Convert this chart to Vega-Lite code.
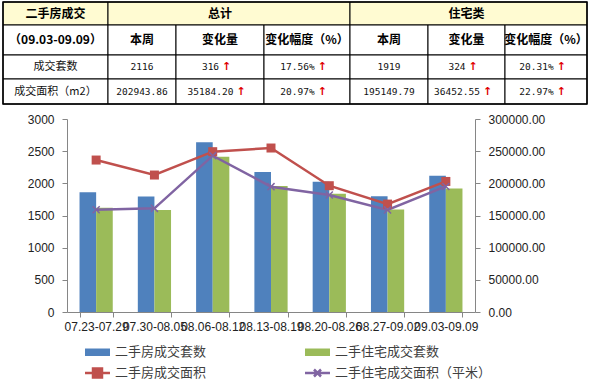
{
  "$schema": "https://vega.github.io/schema/vega-lite/v6.json",
  "width": 408,
  "height": 193,
  "autosize": {"type": "none"},
  "padding": {"left": 67, "top": 119, "right": 114, "bottom": 68},
  "background": "white",
  "config": {"view": {"stroke": null}, "font": "Liberation Sans"},
  "datasets": {
    "series": [
      {"week": "07.23-07.29", "series": "二手房成交套数", "value": 1860},
      {"week": "07.30-08.05", "series": "二手房成交套数", "value": 1797},
      {"week": "08.06-08.12", "series": "二手房成交套数", "value": 2637},
      {"week": "08.13-08.19", "series": "二手房成交套数", "value": 2176},
      {"week": "08.20-08.26", "series": "二手房成交套数", "value": 2026},
      {"week": "08.27-09.02", "series": "二手房成交套数", "value": 1800},
      {"week": "09.03-09.09", "series": "二手房成交套数", "value": 2116},
      {"week": "07.23-07.29", "series": "二手住宅成交套数", "value": 1620},
      {"week": "07.30-08.05", "series": "二手住宅成交套数", "value": 1585},
      {"week": "08.06-08.12", "series": "二手住宅成交套数", "value": 2414},
      {"week": "08.13-08.19", "series": "二手住宅成交套数", "value": 1958},
      {"week": "08.20-08.26", "series": "二手住宅成交套数", "value": 1839},
      {"week": "08.27-09.02", "series": "二手住宅成交套数", "value": 1595},
      {"week": "09.03-09.09", "series": "二手住宅成交套数", "value": 1919},
      {"week": "07.23-07.29", "series": "二手房成交面积", "value": 236200},
      {"week": "07.30-08.05", "series": "二手房成交面积", "value": 212900},
      {"week": "08.06-08.12", "series": "二手房成交面积", "value": 249200},
      {"week": "08.13-08.19", "series": "二手房成交面积", "value": 254900},
      {"week": "08.20-08.26", "series": "二手房成交面积", "value": 196300},
      {"week": "08.27-09.02", "series": "二手房成交面积", "value": 167759.66},
      {"week": "09.03-09.09", "series": "二手房成交面积", "value": 202943.86},
      {"week": "07.23-07.29", "series": "二手住宅成交面积（平米）", "value": 159000},
      {"week": "07.30-08.05", "series": "二手住宅成交面积（平米）", "value": 161100},
      {"week": "08.06-08.12", "series": "二手住宅成交面积（平米）", "value": 243000},
      {"week": "08.13-08.19", "series": "二手住宅成交面积（平米）", "value": 194800},
      {"week": "08.20-08.26", "series": "二手住宅成交面积（平米）", "value": 181800},
      {"week": "08.27-09.02", "series": "二手住宅成交面积（平米）", "value": 158697.24},
      {"week": "09.03-09.09", "series": "二手住宅成交面积（平米）", "value": 195149.79}
    ],
    "table": [
      {"r": 0, "c0": 0, "c1": 1, "t": "二手房成交", "up": false},
      {"r": 0, "c0": 1, "c1": 4, "t": "总计", "up": false},
      {"r": 0, "c0": 4, "c1": 7, "t": "住宅类", "up": false},
      {"r": 1, "c0": 0, "c1": 1, "t": "（09.03-09.09）", "up": false},
      {"r": 1, "c0": 1, "c1": 2, "t": "本周", "up": false},
      {"r": 1, "c0": 2, "c1": 3, "t": "变化量", "up": false},
      {"r": 1, "c0": 3, "c1": 4, "t": "变化幅度（%）", "up": false},
      {"r": 1, "c0": 4, "c1": 5, "t": "本周", "up": false},
      {"r": 1, "c0": 5, "c1": 6, "t": "变化量", "up": false},
      {"r": 1, "c0": 6, "c1": 7, "t": "变化幅度（%）", "up": false},
      {"r": 2, "c0": 0, "c1": 1, "t": "成交套数", "up": false},
      {"r": 2, "c0": 1, "c1": 2, "t": "2116", "up": false},
      {"r": 2, "c0": 2, "c1": 3, "t": "316", "up": true},
      {"r": 2, "c0": 3, "c1": 4, "t": "17.56%", "up": true},
      {"r": 2, "c0": 4, "c1": 5, "t": "1919", "up": false},
      {"r": 2, "c0": 5, "c1": 6, "t": "324", "up": true},
      {"r": 2, "c0": 6, "c1": 7, "t": "20.31%", "up": true},
      {"r": 3, "c0": 0, "c1": 1, "t": "成交面积（m2）", "up": false},
      {"r": 3, "c0": 1, "c1": 2, "t": "202943.86", "up": false},
      {"r": 3, "c0": 2, "c1": 3, "t": "35184.20", "up": true},
      {"r": 3, "c0": 3, "c1": 4, "t": "20.97%", "up": true},
      {"r": 3, "c0": 4, "c1": 5, "t": "195149.79", "up": false},
      {"r": 3, "c0": 5, "c1": 6, "t": "36452.55", "up": true},
      {"r": 3, "c0": 6, "c1": 7, "t": "22.97%", "up": true}
    ]
  },
  "layer": [
    {
      "data": {"name": "series"},
      "layer": [
        {
          "transform": [{"filter": {"field": "series", "oneOf": ["二手房成交套数", "二手住宅成交套数"]}}],
          "mark": {"type": "bar"},
          "encoding": {
            "x": {
              "field": "week", "type": "nominal", "sort": null,
              "scale": {"paddingInner": 0.43, "paddingOuter": 0.215},
              "axis": {"title": null, "labelAngle": 0, "labelOverlap": false, "labelFontSize": 12, "labelColor": "#222222", "labelPadding": 4, "tickBand": "extent", "tickSize": 5, "tickColor": "#868686", "domainColor": "#868686", "labelFlush": false}
            },
            "xOffset": {"field": "series", "type": "nominal", "scale": {"domain": ["二手房成交套数", "二手住宅成交套数"]}},
            "y": {
              "field": "value", "type": "quantitative",
              "scale": {"domain": [0, 3000], "nice": false},
              "axis": {"title": null, "values": [0, 500, 1000, 1500, 2000, 2500, 3000], "format": "d", "labelOverlap": false, "grid": false, "labelFontSize": 12, "labelColor": "#222222", "labelPadding": 8, "tickSize": 5, "tickColor": "#868686", "domainColor": "#868686"}
            },
            "color": {
              "field": "series", "type": "nominal",
              "scale": {"domain": ["二手房成交套数", "二手住宅成交套数", "二手房成交面积", "二手住宅成交面积（平米）"], "range": ["#4F81BD", "#9BBB59", "#C0504D", "#8064A2"]},
              "legend": {
                "title": null, "orient": "none", "legendX": 24, "legendY": 226.5, "columns": 2, "direction": "horizontal",
                "symbolSize": 156, "labelOffset": 11, "columnPadding": 93, "rowPadding": 4, "padding": 0,
                "labelFontSize": 13, "labelFont": "Noto Sans CJK SC", "labelColor": "#404040", "labelLimit": 300,
                "encode": {
                  "symbols": {
                    "update": {
                      "shape": {"signal": "datum.value == '二手房成交面积' ? 'M-2,0H2M-0.72,-0.72H0.72V0.72H-0.72Z' : datum.value == '二手住宅成交面积（平米）' ? 'M-2,0H2M-0.56,-0.56L0.56,0.56M-0.56,0.56L0.56,-0.56' : 'M-2,-0.6H2V0.6H-2Z'"},
                      "fill": {"signal": "datum.value == '二手住宅成交面积（平米）' ? 'transparent' : scale('color', datum.value)"},
                      "stroke": {"signal": "scale('color', datum.value)"},
                      "strokeWidth": {"signal": "(datum.value == '二手房成交套数' || datum.value == '二手住宅成交套数') ? 0 : 2.5"},
                      "opacity": {"value": 1}
                    }
                  }
                }
              }
            }
          }
        },
        {
          "encoding": {
            "x": {"field": "week", "type": "nominal", "sort": null},
            "y": {
              "field": "value", "type": "quantitative",
              "scale": {"domain": [0, 300000], "nice": false},
              "axis": {"orient": "right", "title": null, "values": [0, 50000, 100000, 150000, 200000, 250000, 300000], "format": ".2f", "labelOverlap": false, "grid": false, "labelFontSize": 12, "labelColor": "#222222", "labelPadding": 8, "tickSize": 5, "tickColor": "#868686", "domainColor": "#868686"}
            },
            "color": {"field": "series", "type": "nominal"}
          },
          "layer": [
            {
              "transform": [{"filter": {"field": "series", "oneOf": ["二手房成交面积", "二手住宅成交面积（平米）"]}}],
              "mark": {"type": "line", "strokeWidth": 2.5}
            },
            {
              "transform": [{"filter": {"field": "series", "equal": "二手房成交面积"}}],
              "mark": {"type": "point", "shape": "square", "filled": true, "size": 81, "opacity": 1}
            },
            {
              "transform": [{"filter": {"field": "series", "equal": "二手住宅成交面积（平米）"}}],
              "mark": {"type": "point", "shape": "M-1,-1L1,1M-1,1L1,-1", "filled": false, "size": 50, "strokeWidth": 1.5, "opacity": 1}
            }
          ]
        }
      ],
      "resolve": {"scale": {"y": "independent"}}
    },
    {
      "data": {"name": "table"},
      "transform": [
        {"calculate": "(datum.c0 + datum.c1) / 2", "as": "cx"},
        {"calculate": "datum.r + 0.5", "as": "cy"},
        {"calculate": "datum.r + 1", "as": "r1"}
      ],
      "layer": [
        {
          "mark": {"type": "rect", "stroke": "#000000", "strokeWidth": 1},
          "encoding": {
            "x": {"field": "c0", "type": "quantitative", "scale": {"domain": [0, 1, 2, 3, 4, 5, 6, 7], "range": [-64, 41, 109, 197, 283, 361, 438, 520], "nice": false, "zero": false}, "axis": null},
            "x2": {"field": "c1"},
            "y": {"field": "r", "type": "quantitative", "scale": {"domain": [0, 1, 2, 3, 4], "range": [-117, -94, -64, -40, -15], "nice": false, "zero": false}, "axis": null},
            "y2": {"field": "r1"},
            "fill": {"condition": {"test": "datum.r == 0", "value": "#FFFBD2"}, "value": "#FFFFFF"}
          }
        },
        {
          "data": {"values": [{}]},
          "mark": {"type": "rect", "fill": null, "stroke": "#000000", "strokeWidth": 1.5},
          "encoding": {
            "x": {"datum": 0, "type": "quantitative"},
            "x2": {"datum": 7},
            "y": {"datum": 0, "type": "quantitative"},
            "y2": {"datum": 4}
          }
        },
        {
          "transform": [{"filter": "datum.r <= 1"}],
          "mark": {"type": "text", "font": "Noto Sans CJK SC", "fontWeight": "bold", "fontSize": 12, "align": "center", "baseline": "middle", "color": "#000000"},
          "encoding": {
            "x": {"field": "cx", "type": "quantitative"},
            "y": {"field": "cy", "type": "quantitative"},
            "text": {"field": "t"}
          }
        },
        {
          "transform": [{"filter": "datum.r >= 2 && datum.c0 == 0"}],
          "mark": {"type": "text", "font": "Noto Sans CJK SC", "fontSize": 11, "align": "center", "baseline": "middle", "color": "#111111"},
          "encoding": {
            "x": {"field": "cx", "type": "quantitative"},
            "y": {"field": "cy", "type": "quantitative"},
            "text": {"field": "t"}
          }
        },
        {
          "transform": [{"filter": "datum.r >= 2 && datum.c0 > 0 && !datum.up"}],
          "mark": {"type": "text", "font": "DejaVu Sans Mono", "fontSize": 9.5, "align": "center", "baseline": "middle", "color": "#111111"},
          "encoding": {
            "x": {"field": "cx", "type": "quantitative"},
            "y": {"field": "cy", "type": "quantitative"},
            "text": {"field": "t"}
          }
        },
        {
          "transform": [{"filter": "datum.up"}],
          "mark": {"type": "text", "font": "DejaVu Sans Mono", "fontSize": 9.5, "align": "right", "baseline": "middle", "color": "#111111", "dx": {"expr": "(length(datum.t) * 5.72 - 19) / 2"}},
          "encoding": {
            "x": {"field": "cx", "type": "quantitative"},
            "y": {"field": "cy", "type": "quantitative"},
            "text": {"field": "t"}
          }
        },
        {
          "transform": [{"filter": "datum.up"}],
          "mark": {"type": "text", "font": "DejaVu Sans", "fontWeight": "bold", "fontSize": 11, "align": "left", "baseline": "middle", "color": "#E00000", "dx": {"expr": "(length(datum.t) * 5.72 - 19) / 2 + 3"}},
          "encoding": {
            "x": {"field": "cx", "type": "quantitative"},
            "y": {"field": "cy", "type": "quantitative"},
            "text": {"value": "↑"}
          }
        }
      ]
    }
  ],
  "resolve": {"scale": {"x": "independent", "y": "independent"}}
}
